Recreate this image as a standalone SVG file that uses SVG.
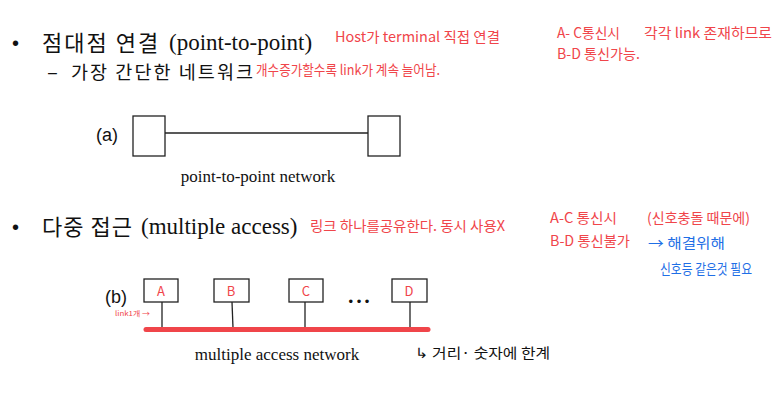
<svg xmlns="http://www.w3.org/2000/svg" width="777" height="407" viewBox="0 0 777 407">
<style>
.ko{font-family:"Noto Sans CJK KR","Noto Sans",sans-serif;fill:#111}
.se{font-family:"Liberation Serif",serif;fill:#111}
.sa{font-family:"Liberation Sans",sans-serif;fill:#111}
.red{font-family:"Noto Sans CJK KR",sans-serif;fill:#f0454a;font-size:14px}
.blue{font-family:"Noto Sans CJK KR",sans-serif;fill:#1f6fe6;font-size:14px}
.blk{font-family:"Noto Sans CJK KR",sans-serif;fill:#111;font-size:14px}
.box{fill:#fff;stroke:#222;stroke-width:1.3}
.ln{stroke:#222;stroke-width:1.3;fill:none}
.lbl{font-family:"Noto Sans CJK KR",sans-serif;fill:#f0454a;font-size:13px;text-anchor:middle}
</style>
<rect width="777" height="407" fill="#fff"/>
<g id="bullet1">
<text x="12" y="50" class="sa" font-size="20">•</text>
<text x="42" y="51" class="ko" font-size="22" letter-spacing="2">점대점 연결</text>
<text x="169" y="50" class="se" font-size="23">(point-to-point)</text>
<text x="48" y="78" class="sa" font-size="16">–</text>
<text x="71" y="79" class="ko" font-size="18.5" textLength="182" lengthAdjust="spacing">가장 간단한 네트워크</text>
</g>
<g id="notes1">
<text x="335" y="42" class="red" textLength="165" lengthAdjust="spacingAndGlyphs">Host가 terminal 직접 연결</text>
<text x="256" y="75" class="red" textLength="184" lengthAdjust="spacingAndGlyphs">개수증가할수록 link가 계속 늘어남.</text>
<text x="557" y="38" class="red" textLength="63" lengthAdjust="spacingAndGlyphs">A- C통신시</text>
<text x="644" y="38" class="red" textLength="128" lengthAdjust="spacingAndGlyphs">각각 link 존재하므로</text>
<text x="557" y="59" class="red" textLength="83" lengthAdjust="spacingAndGlyphs">B-D 통신가능.</text>
</g>
<g id="diagram-a">
<text x="96" y="141" class="sa" font-size="18">(a)</text>
<g id="nodeA1"><rect x="133" y="116" width="32" height="40" class="box"/></g>
<g id="nodeA2"><rect x="368" y="116" width="32" height="40" class="box"/></g>
<text x="258" y="182" class="se" font-size="17" text-anchor="middle">point-to-point network</text>
</g>
<g id="bullet2">
<text x="12" y="234" class="sa" font-size="20">•</text>
<text x="42" y="235" class="ko" font-size="22" letter-spacing="1">다중 접근</text>
<text x="141" y="234" class="se" font-size="23">(multiple access)</text>
</g>
<g id="notes2">
<text x="310" y="231" class="red" textLength="195" lengthAdjust="spacingAndGlyphs">링크 하나를공유한다. 동시 사용X</text>
<text x="550" y="223" class="red" textLength="67" lengthAdjust="spacingAndGlyphs">A-C 통신시</text>
<text x="647" y="223" class="red" textLength="103" lengthAdjust="spacingAndGlyphs">(신호충돌 때문에)</text>
<text x="550" y="246" class="red" textLength="80" lengthAdjust="spacingAndGlyphs">B-D 통신불가</text>
<text x="648" y="248" class="blue" textLength="77" lengthAdjust="spacingAndGlyphs">→ 해결위해</text>
<text x="660" y="274" class="blue" textLength="92" lengthAdjust="spacingAndGlyphs">신호등 같은것 필요</text>
<text x="415" y="358" class="blk" textLength="135" lengthAdjust="spacingAndGlyphs">↳ 거리· 숫자에 한계</text>
<text x="115" y="316" class="red" style="font-size:7px" textLength="35" lengthAdjust="spacingAndGlyphs">link1개 →</text>
</g>
<g id="diagram-b">
<text x="105" y="303" class="sa" font-size="18">(b)</text>
<g id="nodeA"><rect x="144" y="279" width="34" height="23" class="box"/><text x="161" y="296" class="lbl">A</text></g>
<g id="nodeB"><rect x="214" y="279" width="35" height="23" class="box"/><text x="231" y="296" class="lbl">B</text></g>
<g id="nodeC"><rect x="289" y="279" width="34" height="23" class="box"/><text x="306" y="296" class="lbl">C</text></g>
<g id="nodeD"><rect x="392" y="279" width="35" height="23" class="box"/><text x="409" y="296" class="lbl">D</text></g>
<text x="359" y="306" class="sa" font-size="13" text-anchor="middle">• • •</text>
<text x="277" y="360" class="se" font-size="17" text-anchor="middle">multiple access network</text>
</g>
<g id="connectors">
<line x1="165" y1="133" x2="368" y2="133" class="ln"/>
<line x1="162" y1="302" x2="162" y2="328" class="ln"/>
<line x1="232" y1="302" x2="233" y2="328" class="ln"/>
<line x1="305" y1="302" x2="305" y2="328" class="ln"/>
<line x1="410" y1="302" x2="410" y2="328" class="ln"/>
<line x1="146" y1="329.5" x2="428" y2="329.5" stroke="#f0454a" stroke-width="5" stroke-linecap="round"/>
</g>
</svg>
